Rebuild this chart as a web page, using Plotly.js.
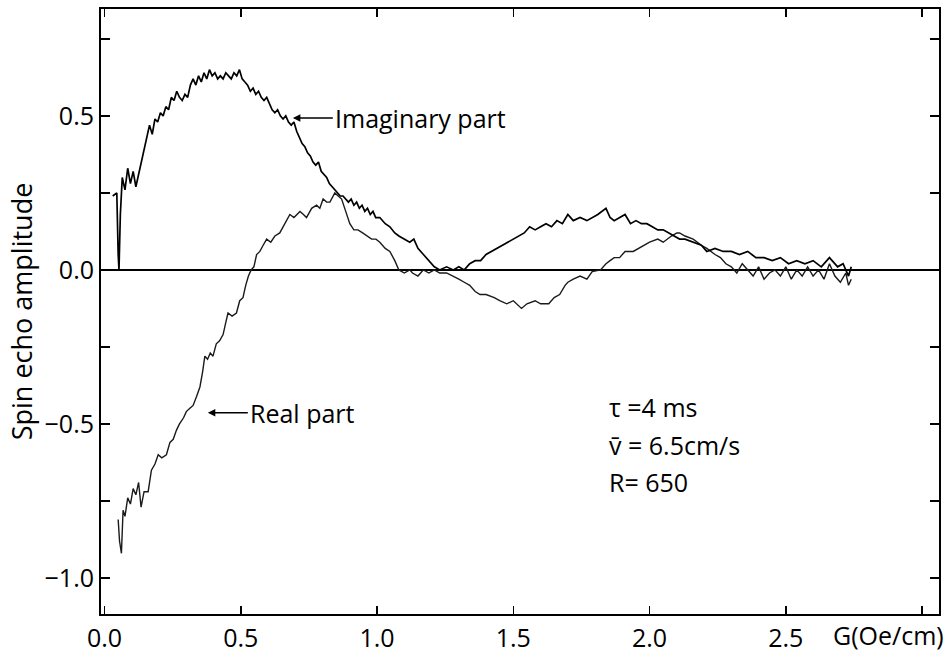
<!DOCTYPE html>
<html>
<head>
<meta charset="utf-8">
<script src="https://cdn.plot.ly/plotly-3.0.1.min.js"></script>
<style>html,body{margin:0;padding:0;background:#fff;}#chart{width:946px;height:654px;}</style>
</head>
<body>
<div id="chart"></div>
<script>
// Imaginary part (G in Oe/cm, amplitude)
var imagG = [0.030,0.045,0.050,0.053,0.058,0.065,0.075,0.085,0.095,0.105,0.115,0.125,0.135,0.145,0.155,0.165,0.175,0.185,0.195,0.205,0.215,0.225,0.235,0.245,0.255,0.265,0.275,0.285,0.295,0.305,0.315,0.325,0.335,0.345,0.355,0.365,0.375,0.385,0.395,0.405,0.415,0.425,0.435,0.445,0.455,0.465,0.475,0.485,0.495,0.505,0.515,0.525,0.535,0.545,0.555,0.565,0.575,0.585,0.595,0.605,0.615,0.625,0.635,0.645,0.655,0.665,0.675,0.685,0.695,0.705,0.715,0.725,0.735,0.745,0.755,0.765,0.775,0.785,0.795,0.805,0.815,0.825,0.835,0.845,0.855,0.865,0.875,0.885,0.895,0.905,0.915,0.925,0.935,0.945,0.955,0.965,0.975,0.985,0.995,1.010,1.030,1.047,1.065,1.080,1.100,1.120,1.135,1.150,1.170,1.190,1.210,1.230,1.255,1.280,1.300,1.320,1.340,1.360,1.380,1.400,1.420,1.440,1.460,1.480,1.500,1.520,1.540,1.560,1.580,1.600,1.620,1.640,1.660,1.680,1.700,1.720,1.745,1.770,1.790,1.810,1.840,1.855,1.870,1.890,1.910,1.930,1.950,1.970,1.990,2.010,2.030,2.050,2.070,2.090,2.110,2.130,2.160,2.190,2.210,2.240,2.270,2.300,2.330,2.360,2.390,2.420,2.450,2.480,2.510,2.540,2.570,2.600,2.630,2.660,2.690,2.710,2.730,2.740];
var imagAmp = [0.24,0.25,0.05,0.00,0.18,0.30,0.26,0.33,0.28,0.32,0.27,0.31,0.35,0.38,0.43,0.47,0.44,0.49,0.48,0.51,0.50,0.53,0.52,0.56,0.55,0.58,0.56,0.55,0.57,0.56,0.60,0.62,0.60,0.63,0.61,0.64,0.62,0.65,0.63,0.64,0.62,0.63,0.62,0.64,0.63,0.62,0.64,0.63,0.65,0.62,0.61,0.60,0.58,0.59,0.57,0.58,0.56,0.55,0.56,0.54,0.52,0.51,0.52,0.50,0.49,0.50,0.48,0.47,0.48,0.45,0.43,0.41,0.40,0.38,0.37,0.35,0.34,0.35,0.32,0.31,0.30,0.28,0.27,0.26,0.25,0.24,0.24,0.23,0.22,0.23,0.21,0.22,0.20,0.21,0.19,0.20,0.18,0.19,0.17,0.17,0.15,0.14,0.12,0.11,0.10,0.09,0.10,0.07,0.05,0.03,0.01,0.00,0.01,0.00,0.01,0.00,0.02,0.03,0.03,0.05,0.06,0.07,0.08,0.09,0.10,0.11,0.12,0.14,0.13,0.14,0.15,0.14,0.16,0.15,0.18,0.16,0.17,0.16,0.17,0.18,0.20,0.17,0.16,0.17,0.18,0.15,0.16,0.15,0.15,0.14,0.13,0.13,0.12,0.11,0.10,0.10,0.09,0.08,0.06,0.07,0.06,0.06,0.05,0.06,0.04,0.04,0.03,0.04,0.02,0.03,0.02,0.03,0.01,0.04,0.01,0.02,-0.02,0.01];

// Real part
var realG = [0.050,0.055,0.062,0.068,0.075,0.085,0.095,0.105,0.115,0.125,0.134,0.145,0.160,0.172,0.185,0.197,0.210,0.227,0.240,0.252,0.264,0.275,0.290,0.300,0.312,0.325,0.338,0.350,0.360,0.368,0.378,0.388,0.398,0.410,0.422,0.435,0.445,0.453,0.468,0.484,0.496,0.508,0.518,0.528,0.538,0.548,0.558,0.570,0.582,0.595,0.610,0.625,0.643,0.660,0.680,0.695,0.717,0.730,0.741,0.760,0.778,0.790,0.802,0.815,0.827,0.845,0.857,0.870,0.885,0.900,0.915,0.930,0.947,0.965,0.980,0.996,1.010,1.030,1.047,1.065,1.080,1.100,1.120,1.130,1.150,1.170,1.190,1.210,1.230,1.255,1.280,1.300,1.320,1.340,1.360,1.378,1.400,1.430,1.450,1.476,1.500,1.530,1.550,1.580,1.600,1.630,1.650,1.670,1.690,1.700,1.720,1.745,1.770,1.790,1.820,1.840,1.855,1.870,1.890,1.910,1.940,1.960,1.980,2.000,2.030,2.050,2.080,2.100,2.110,2.130,2.160,2.190,2.210,2.240,2.260,2.280,2.300,2.320,2.340,2.360,2.380,2.400,2.420,2.440,2.460,2.480,2.500,2.520,2.540,2.560,2.580,2.600,2.620,2.640,2.660,2.680,2.700,2.720,2.730,2.740];
var realAmp = [-0.81,-0.88,-0.92,-0.78,-0.80,-0.74,-0.76,-0.71,-0.73,-0.69,-0.77,-0.72,-0.72,-0.65,-0.63,-0.60,-0.61,-0.60,-0.56,-0.55,-0.52,-0.50,-0.48,-0.46,-0.45,-0.44,-0.41,-0.38,-0.33,-0.28,-0.29,-0.27,-0.28,-0.24,-0.23,-0.21,-0.17,-0.14,-0.15,-0.14,-0.10,-0.09,-0.05,-0.02,0.00,0.01,0.05,0.06,0.08,0.10,0.09,0.11,0.12,0.15,0.18,0.17,0.19,0.18,0.17,0.20,0.21,0.20,0.23,0.22,0.22,0.25,0.24,0.23,0.19,0.15,0.13,0.13,0.12,0.11,0.10,0.10,0.09,0.07,0.06,0.03,0.00,-0.01,0.00,-0.01,-0.02,0.00,-0.01,0.00,-0.01,-0.01,-0.02,-0.03,-0.04,-0.05,-0.07,-0.08,-0.08,-0.09,-0.10,-0.11,-0.10,-0.125,-0.11,-0.10,-0.11,-0.11,-0.09,-0.08,-0.05,-0.04,-0.03,-0.02,-0.03,-0.005,0.00,0.02,0.03,0.04,0.04,0.06,0.06,0.07,0.08,0.09,0.10,0.09,0.11,0.12,0.12,0.11,0.10,0.08,0.07,0.05,0.04,0.02,0.01,-0.01,0.02,0.00,-0.02,0.01,-0.03,-0.01,0.00,-0.02,0.01,-0.03,0.00,-0.02,0.01,-0.02,0.00,-0.03,0.02,-0.02,-0.04,-0.01,-0.05,-0.03];

var xTickVals = [0, 0.5, 1.0, 1.5, 2.0, 2.5, 3.0];
var xTickText = ["0.0", "0.5", "1.0", "1.5", "2.0", "2.5", ""];
var yTickVals = [-1.0, -0.75, -0.5, -0.25, 0, 0.25, 0.5, 0.75];
var yTickText = ["\u22121.0", "", "\u22120.5", "", "0.0", "", "0.5", ""];

var FONT = "Open Sans, DejaVu Sans, sans-serif";
var FS = 25;

var traces = [
  {x: realG, y: realAmp, type: "scatter", mode: "lines", line: {color: "#1a1a1a", width: 1.4}, hoverinfo: "skip"},
  {x: imagG, y: imagAmp, type: "scatter", mode: "lines", line: {color: "#000", width: 1.7}, hoverinfo: "skip"}
];

var layout = {
  width: 946, height: 654,
  margin: {l: 101, r: 7, t: 9, b: 40},
  paper_bgcolor: "#fff", plot_bgcolor: "#fff",
  showlegend: false,
  font: {family: FONT, size: FS, color: "#000"},
  xaxis: {
    range: [-0.013, 3.062], tickvals: xTickVals, ticktext: xTickText,
    ticks: "inside", ticklen: 8, tickwidth: 1.5, tickcolor: "#000",
    showline: true, linecolor: "#000", linewidth: 2, mirror: "ticks",
    showgrid: false, zeroline: false, ticklabelstandoff: 1,
    tickfont: {family: FONT, size: FS, color: "#000"}
  },
  yaxis: {
    range: [-1.117, 0.847], tickvals: yTickVals, ticktext: yTickText,
    ticks: "inside", ticklen: 9, tickwidth: 1.5, tickcolor: "#000",
    showline: true, linecolor: "#000", linewidth: 2, mirror: "ticks",
    showgrid: false, zeroline: true, zerolinecolor: "#000", zerolinewidth: 1.5,
    tickfont: {family: FONT, size: FS, color: "#000"},
    title: {text: "Spin echo amplitude", font: {family: FONT, size: 27, color: "#000"}, standoff: 4}
  },
  annotations: [
    {x: 0.691, y: 0.493, xref: "x", yref: "y", text: "Imaginary part", showarrow: true,
     ax: 40, ay: 0, xanchor: "left", arrowhead: 2, arrowsize: 1, arrowwidth: 1.5, arrowcolor: "#000",
     font: {family: FONT, size: FS, color: "#000"}},
    {x: 0.379, y: -0.464, xref: "x", yref: "y", text: "Real part", showarrow: true,
     ax: 40, ay: 0, xanchor: "left", arrowhead: 2, arrowsize: 1, arrowwidth: 1.5, arrowcolor: "#000",
     font: {family: FONT, size: FS, color: "#000"}},
    {x: 1.844, y: -0.445, xref: "x", yref: "y", text: "\u03c4 =4 ms", showarrow: false, xanchor: "left",
     font: {family: FONT, size: FS, color: "#000"}},
    {x: 1.844, y: -0.568, xref: "x", yref: "y", text: "v\u0304 = 6.5cm/s", showarrow: false, xanchor: "left",
     font: {family: FONT, size: FS, color: "#000"}},
    {x: 1.844, y: -0.688, xref: "x", yref: "y", text: "R= 650", showarrow: false, xanchor: "left",
     font: {family: FONT, size: FS, color: "#000"}},
    {x: 0.94, y: -0.035, xref: "paper", yref: "paper", text: "G(Oe/cm)", showarrow: false,
     xanchor: "center", yanchor: "middle", font: {family: FONT, size: FS, color: "#000"}}
  ]
};

Plotly.newPlot("chart", traces, layout, {staticPlot: true});
</script>
</body>
</html>
